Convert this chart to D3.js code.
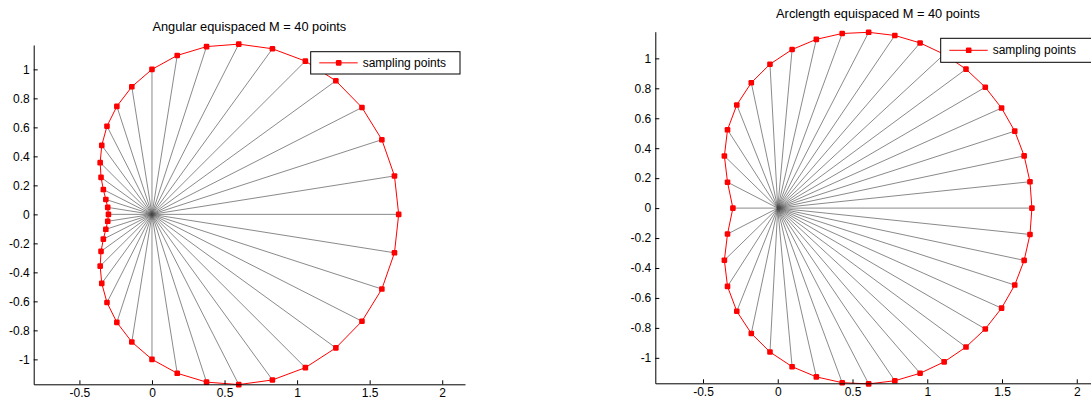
<!DOCTYPE html>
<html>
<head>
<meta charset="utf-8">
<script src="https://cdn.jsdelivr.net/npm/d3@7"></script>
<style>
  body { margin: 0; background: #fff; }
  svg { display: block; font-family: "Liberation Sans", Arial, Helvetica, sans-serif; }
  .tick text { font-size: 12px; fill: #000; }
  .domain, .tick line { stroke: #000; }
</style>
</head>
<body>
<svg id="viz" width="1091" height="398"></svg>
<script>
const angX = [1.7, 1.671, 1.584, 1.447, 1.267, 1.057, 0.830, 0.598, 0.376, 0.174, 0, -0.139, -0.242, -0.310, -0.346, -0.357, -0.351, -0.335, -0.318, -0.305,
  -0.3, -0.305, -0.318, -0.335, -0.351, -0.357, -0.346, -0.310, -0.242, -0.139, 0, 0.174, 0.376, 0.598, 0.830, 1.057, 1.267, 1.447, 1.584, 1.671];
const angY = [0, 0.265, 0.515, 0.737, 0.921, 1.057, 1.142, 1.174, 1.157, 1.096, 1, 0.880, 0.745, 0.608, 0.476, 0.357, 0.255, 0.171, 0.103, 0.048,
  0, -0.048, -0.103, -0.171, -0.255, -0.357, -0.476, -0.608, -0.745, -0.880, -1, -1.096, -1.157, -1.174, -1.142, -1.057, -0.921, -0.737, -0.515, -0.265];

const arcX = [1.7, 1.687, 1.648, 1.585, 1.497, 1.388, 1.259, 1.113, 0.952, 0.783, 0.608, 0.431, 0.258, 0.096, -0.052, -0.177, -0.274, -0.336, -0.357, -0.336,
  -0.3, -0.336, -0.357, -0.336, -0.274, -0.177, -0.052, 0.096, 0.258, 0.431, 0.608, 0.783, 0.952, 1.113, 1.259, 1.388, 1.497, 1.585, 1.648, 1.687];
const arcY = [0, 0.176, 0.349, 0.514, 0.668, 0.807, 0.928, 1.027, 1.103, 1.153, 1.174, 1.166, 1.127, 1.059, 0.961, 0.837, 0.689, 0.523, 0.348, 0.173,
  0, -0.173, -0.348, -0.523, -0.689, -0.837, -0.961, -1.059, -1.127, -1.166, -1.174, -1.153, -1.103, -1.027, -0.928, -0.807, -0.668, -0.514, -0.349, -0.176];

const xTicks = [-0.5, 0, 0.5, 1, 1.5, 2];
const yTicks = [-1, -0.8, -0.6, -0.4, -0.2, 0, 0.2, 0.4, 0.6, 0.8, 1];
const titles = ["Angular equispaced M = 40 points", "Arclength equispaced M = 40 points"];
const legendLabel = "sampling points";

const panels = [
  {
    xs: angX, ys: angY, title: titles[0],
    xDomain: [-0.815, 2.157], xRange: [33.7, 465],
    yDomain: [-1.172, 1.168], yRange: [384.3, 45],
    titleY: 27,
    legend: { x: 310.7, y: 51.7, w: 149.3, h: 22.3 }
  },
  {
    xs: arcX, ys: arcY, title: titles[1],
    xDomain: [-0.819, 2.16], xRange: [655.3, 1100.7],
    yDomain: [-1.17, 1.178], yRange: [383.3, 31.7],
    titleY: 14,
    legend: { x: 940.7, y: 38.3, w: 154, h: 24 }
  }
];

const svg = d3.select("#viz");
const fmt = (d) => String(+d.toFixed(1));

panels.forEach((p) => {
  const x = d3.scaleLinear().domain(p.xDomain).range(p.xRange);
  const y = d3.scaleLinear().domain(p.yDomain).range(p.yRange);
  const g = svg.append("g");
  const pts = p.xs.map((v, i) => [v, p.ys[i]]);

  // spokes from the origin
  g.selectAll(".spoke")
    .data(pts)
    .enter()
    .append("line")
    .attr("class", "spoke")
    .attr("x1", x(0)).attr("y1", y(0))
    .attr("x2", (d) => x(d[0])).attr("y2", (d) => y(d[1]))
    .attr("stroke", "#4a4a4a")
    .attr("stroke-width", 0.65);

  // closed red curve
  const line = d3.line().x((d) => x(d[0])).y((d) => y(d[1]));
  g.append("path")
    .attr("d", line(pts.concat([pts[0]])))
    .attr("fill", "none")
    .attr("stroke", "#ff0000")
    .attr("stroke-width", 1);

  g.selectAll(".pt")
    .data(pts)
    .enter()
    .append("rect")
    .attr("class", "pt")
    .attr("x", (d) => x(d[0]) - 2.8).attr("y", (d) => y(d[1]) - 2.8)
    .attr("width", 5.6).attr("height", 5.6).attr("rx", 1.2)
    .attr("fill", "#ff0000");

  // axes (box off, ticks pointing in)
  g.append("g")
    .attr("transform", `translate(0,${p.yRange[0]})`)
    .call(d3.axisBottom(x).tickValues(xTicks).tickFormat(fmt).tickSizeInner(-4).tickSizeOuter(0).tickPadding(4));
  g.append("g")
    .attr("transform", `translate(${p.xRange[0]},0)`)
    .call(d3.axisLeft(y).tickValues(yTicks).tickFormat(fmt).tickSizeInner(-4).tickSizeOuter(0).tickPadding(4));
  g.selectAll(".tick text").attr("font-family", null).attr("font-size", null);

  g.append("text")
    .attr("x", (p.xRange[0] + p.xRange[1]) / 2)
    .attr("y", p.titleY)
    .attr("dy", "0.35em")
    .attr("text-anchor", "middle")
    .style("font-size", "12.8px")
    .text(p.title);

  // legend
  const L = p.legend;
  const lg = g.append("g").attr("transform", `translate(${L.x},${L.y})`);
  lg.append("rect").attr("width", L.w).attr("height", L.h)
    .attr("fill", "#fff").attr("stroke", "#000").attr("stroke-width", 1);
  lg.append("line").attr("x1", 8.6).attr("x2", 47).attr("y1", L.h / 2).attr("y2", L.h / 2)
    .attr("stroke", "#ff0000").attr("stroke-width", 1);
  lg.append("rect").attr("x", 28 - 2.8).attr("y", L.h / 2 - 2.8).attr("width", 5.6).attr("height", 5.6).attr("rx", 1.2)
    .attr("fill", "#ff0000");
  lg.append("text").attr("x", 52).attr("y", L.h / 2).attr("dy", "0.35em")
    .style("font-size", "12px").text(legendLabel);
});
</script>
</body>
</html>
